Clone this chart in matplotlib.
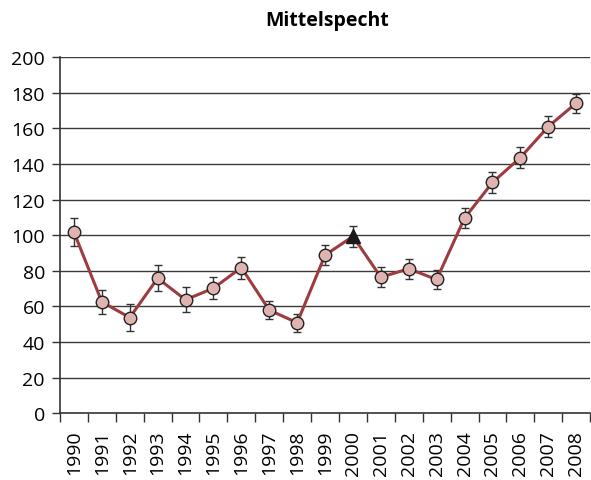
import numpy as np
import matplotlib
matplotlib.use('Agg')
import matplotlib.pyplot as plt

plt.rcParams['font.family'] = ['Open Sans', 'DejaVu Sans']

# Data
years = [str(y) for y in range(1990, 2009)]
values = [101.7, 62.5, 53.7, 75.8, 63.7, 70.2, 81.8, 57.9, 50.8, 88.8,
          99.3, 76.4, 81.1, 75.1, 109.6, 129.6, 143.6, 161.0, 174.2]
errors = [7.9, 6.8, 7.4, 7.3, 6.9, 6.2, 6.2, 5.0, 5.0, 5.8,
          5.9, 5.8, 5.7, 5.2, 5.7, 5.9, 5.8, 5.8, 5.4]
ref_year = '2000'

x = np.arange(len(years))
ref = years.index(ref_year)

fig = plt.figure(figsize=(5.91, 4.81), dpi=100)
ax = fig.add_axes([0.1015, 0.139, 0.897, 0.740])

for v in range(20, 201, 20):
    ax.axhline(v, color='#3a3a3a', lw=1.0, zorder=0)

ax.errorbar(x, values, yerr=errors, fmt='none', ecolor='#333333',
            elinewidth=1.0, capsize=3, capthick=1.0, zorder=2)
ax.plot(x, values, color='#9e3b3f', lw=2.2, zorder=3)
mask = x != ref
ax.plot(x[mask], np.array(values)[mask], 'o', ms=9, mfc='#deb3b0',
        mec='#222222', mew=1.0, zorder=4)
ax.plot(x[ref], values[ref], '^', ms=10, color='#1a1a1a', zorder=4)

ax.set_xlim(-0.5, len(years) - 0.5)
ax.set_ylim(0, 200)
ax.set_yticks(range(0, 201, 20))
ax.set_xticks(x)
ax.set_xticklabels(years, rotation=90, fontsize=14)
ax.set_xticks(np.arange(-0.5, len(years), 1), minor=True)
ax.tick_params(axis='x', which='major', length=0, pad=12)
ax.tick_params(axis='x', which='minor', length=6.5, width=1, color='#333333')
ax.tick_params(axis='y', length=5.8, width=1, color='#333333', labelsize=14,
               pad=5)

for s in ['top', 'right']:
    ax.spines[s].set_visible(False)
for s in ['left', 'bottom']:
    ax.spines[s].set_color('#333333')
    ax.spines[s].set_linewidth(1.2)

fig.text(0.553, 0.956, 'Mittelspecht', ha='center', va='center',
         fontsize=14, fontweight='bold')

fig.savefig('out.png', dpi=100)
